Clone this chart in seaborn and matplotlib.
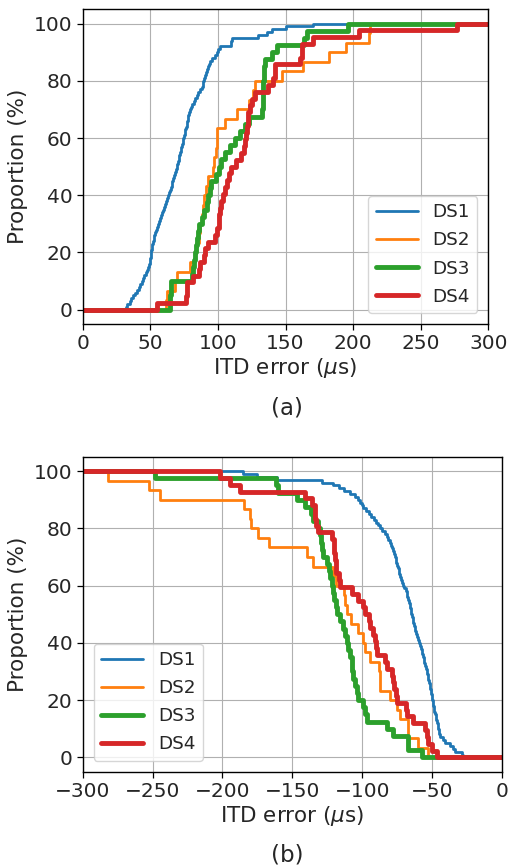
import numpy as np
import pandas as pd
import matplotlib
matplotlib.use("Agg")
import matplotlib.pyplot as plt
import seaborn as sns

# ---------------- data (ITD error samples, microseconds) ----------------
series_names = ["DS1", "DS2", "DS3", "DS4"]

# (a) top panel samples
a_ds1 = [32, 33, 35, 36, 37.5, 39, 40, 41.5, 42.5, 43.5,
         44.5, 45.5, 46.5, 47.5, 48.5, 49, 49.5, 50, 50.3, 50.6,
         50.8, 51, 51.5, 52, 52.5, 53, 53.5, 54, 54.8, 55.5,
         56.5, 57.3, 58, 58.8, 59.6, 60.3, 61, 61.8, 62.5, 63.2,
         64, 64.6, 65.2, 65.8, 66.4, 67, 67.6, 68.2, 68.8, 69.4,
         70, 70.7, 71.1, 71.5, 71.9, 72.4, 72.9, 73.4, 73.9, 74.4,
         74.9, 75.4, 75.9, 76.3, 76.8, 77.2, 77.7, 78.1, 78.7, 79.3,
         80, 80.6, 82, 83.2, 84.3, 85.5, 86.8, 88, 88.6, 89.2,
         89.9, 90.5, 91.2, 91.9, 92.6, 93.4, 94.1, 95.8, 97.5, 99.1,
         100.4, 101.6, 109.5, 110, 110.5, 130, 136, 140, 150, 170.5]
a_ds2 = [61.5, 62.5, 68.5, 69.5, 79, 83, 84, 86, 87, 88,
         89, 90, 91, 92.5, 96, 97, 98.5, 99, 99.5, 105,
         114, 123, 126, 127.5, 147.5, 162.7, 182, 194.5, 212, 212.5]
a_ds3 = [64.5, 64.5, 65, 65, 80.5, 81.5, 82, 83, 84, 84.5,
         85.5, 86, 88, 90, 92, 93, 94.5, 95, 98.5, 101,
         102, 105, 109, 112.5, 116, 120, 123, 132.5, 133, 133,
         133.5, 133.5, 134, 134, 134.5, 140, 143.5, 164, 166, 196.5]
a_ds4 = [55, 76.5, 77, 77, 81.5, 86, 87, 89.5, 90.5, 92.5,
         97.5, 99.5, 100.5, 101, 101.5, 102, 103.5, 105, 107, 108.5,
         110, 113.5, 117, 119, 120, 121, 121.5, 122, 122.5, 124,
         125, 127.5, 137, 141, 142, 142.5, 161, 162, 162.5, 170.5,
         204, 276.5]

# (b) bottom panel samples
b_ds1 = [-185, -175.5, -161, -128.5, -121, -117, -113, -109, -105, -103,
         -101.5, -100.5, -99.5, -97.5, -95.5, -93.5, -91.5, -90, -88.5, -87.3,
         -86, -84, -82.5, -81.5, -80.5, -79.5, -78.9, -78, -77.3, -76.6,
         -76, -75.6, -75.3, -74.7, -74, -73.4, -72.8, -72.3, -71.8, -71,
         -70, -69, -68.2, -67.7, -67.2, -66.7, -66.2, -65.7, -65.2, -64.9,
         -64.6, -64, -63.5, -63, -62.5, -62, -61.5, -61, -60.3, -59.6,
         -58.9, -58.2, -57.5, -57, -56.5, -56, -55.5, -55, -54.5, -53.9,
         -53.5, -53.1, -52.7, -52.3, -51.9, -51.5, -51.1, -50.7, -50.3, -50,
         -49.6, -49.2, -48.8, -48.4, -47.9, -47.5, -47, -46.6, -46.1, -45.7,
         -45.2, -44.8, -44.4, -42.5, -40.8, -37.2, -35, -33.6, -29, -27.7]
b_ds2 = [-281.7, -252.6, -244.7, -184.6, -180, -179.5, -174.4, -167, -139.7, -135.5,
         -121, -119, -113, -112, -111, -108, -103, -99.5, -98, -94.5,
         -88, -87.5, -87, -80.1, -75.3, -73, -67.5, -67, -59.9, -52.7]
b_ds3 = [-248.3, -161.5, -160.5, -147, -141, -137, -135, -132, -130.2, -129.6,
         -129, -128, -125.5, -124, -123.1, -122, -120.7, -120, -119, -118.3,
         -116, -113.5, -112, -111, -110, -108.7, -107.5, -107, -106.3, -105,
         -104, -102.8, -99.2, -98, -96.4, -82.5, -77.8, -67.5, -67, -57.5]
b_ds4 = [-201.8, -194.6, -187.5, -141, -136.2, -134, -133.5, -133, -132, -121.9,
         -120.5, -120, -119.5, -119, -118.6, -117, -115.9, -107.5, -102.8, -99.5,
         -98, -95.5, -94.4, -92, -91, -90.3, -89.6, -84, -82.5, -79,
         -78, -77, -76, -75.3, -69, -68.2, -63.5, -55.1, -53.5, -52.8,
         -50.4, -46.7]

top_data = [a_ds1, a_ds2, a_ds3, a_ds4]
bot_data = [b_ds1, b_ds2, b_ds3, b_ds4]

x_ticks_top = [0, 50, 100, 150, 200, 250, 300]
x_ticks_bot = [-300, -250, -200, -150, -100, -50, 0]
y_ticks = [0, 20, 40, 60, 80, 100]

# ---------------- style ----------------
sns.set_style("ticks")
plt.rcParams["font.family"] = ["DejaVu Sans"]
plt.rcParams["mathtext.fontset"] = "dejavusans"

colors = sns.color_palette("tab10")[:4]
widths = [2.0, 2.0, 3.5, 3.5]


def ecdf_frame(vals, lo, hi, complementary=False):
    v = np.sort(np.asarray(vals, dtype=float))
    n = len(v)
    p = np.arange(1, n + 1) / n * 100.0
    if complementary:
        p = 100.0 - p
        xs = np.r_[lo, v, hi]
        ys = np.r_[100.0, p, 0.0]
    else:
        xs = np.r_[lo, v, hi]
        ys = np.r_[0.0, p, 100.0]
    return pd.DataFrame({"x": xs, "y": ys})


fig = plt.figure(figsize=(5.10, 8.67), dpi=100)
ax1 = fig.add_axes([0.1622, 0.6263, 0.7953, 0.3630])
ax2 = fig.add_axes([0.1622, 0.1099, 0.8222, 0.3633])

tick_fs = 14.5
label_fs = 15.5
legend_fs = 13.2

for ax, datasets, (lo, hi), comp, xt, loc in [
    (ax1, top_data, (0, 300), False, x_ticks_top, "lower right"),
    (ax2, bot_data, (-300, 0), True, x_ticks_bot, "lower left"),
]:
    for name, vals, c, lw in zip(series_names, datasets, colors, widths):
        df = ecdf_frame(vals, lo, hi, complementary=comp)
        sns.lineplot(data=df, x="x", y="y", ax=ax, color=c, lw=lw, label=name,
                     drawstyle="steps-post", estimator=None, sort=False)
    ax.set_xlim(lo, hi)
    ax.set_ylim(-5, 105)
    ax.set_xticks(xt)
    ax.set_yticks(y_ticks)
    ax.grid(True, color="#b0b0b0", lw=0.8)
    ax.set_axisbelow(True)
    for s in ax.spines.values():
        s.set_visible(True)
        s.set_color("black")
        s.set_linewidth(1.0)
    ax.tick_params(labelsize=tick_fs, length=4, width=0.9, color="black")
    ax.set_xlabel(r"ITD error ($\mu$s)", fontsize=label_fs, labelpad=2)
    ax.set_ylabel("Proportion (%)", fontsize=label_fs, labelpad=4)
    leg = ax.legend(loc=loc, fontsize=legend_fs, frameon=True, fancybox=True,
                    framealpha=0.8, edgecolor="#cccccc", handlelength=2.3,
                    labelspacing=0.55, borderaxespad=0.6)

fig.text(287 / 510, 1 - 408 / 867, "(a)", ha="center", va="center", fontsize=label_fs + 1)
fig.text(287 / 510, 1 - 855 / 867, "(b)", ha="center", va="center", fontsize=label_fs + 1)

fig.savefig("out.png", dpi=100)
